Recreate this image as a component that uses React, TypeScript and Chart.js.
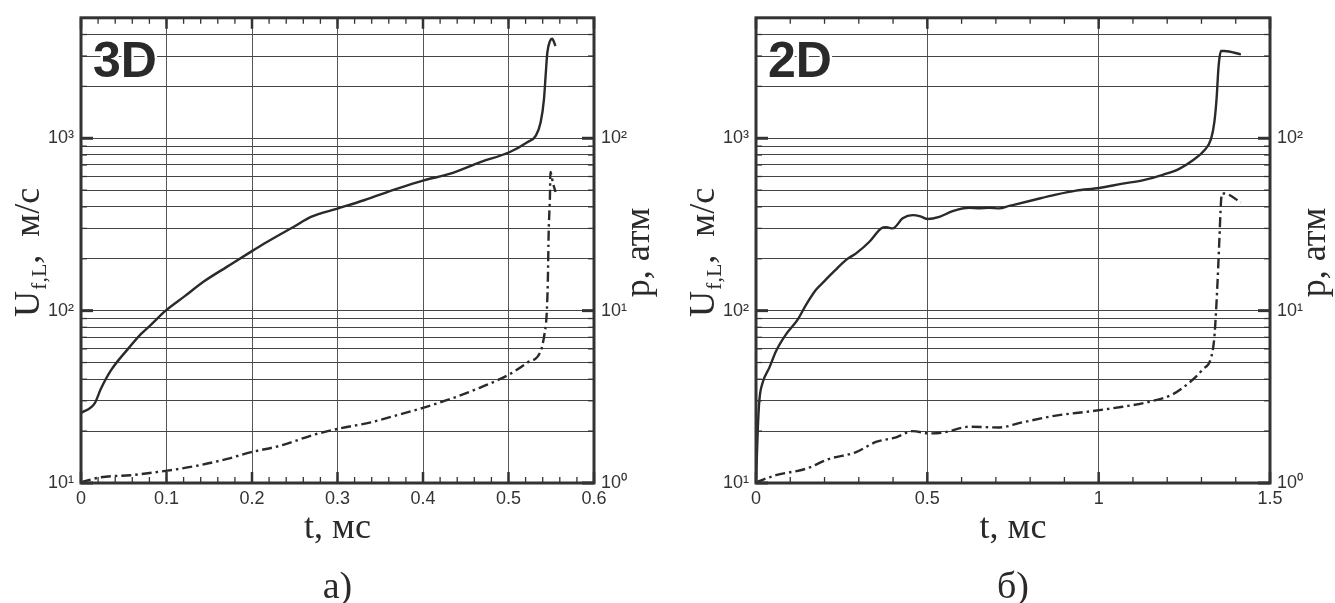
import React, { useEffect, useRef } from 'react';
import { Chart, registerables } from 'chart.js';

Chart.register(...registerables);

// ---------- data: panel а) 3D ----------
const t3dU = [0, 0.016, 0.023, 0.035, 0.055, 0.07, 0.082, 0.099, 0.121, 0.144, 0.171, 0.199, 0.218, 0.249, 0.269, 0.3, 0.331, 0.37, 0.401, 0.432, 0.467, 0.501, 0.522, 0.532, 0.5376, 0.5415, 0.5434, 0.5454, 0.5485, 0.551, 0.555];
const u3d = [25.5, 29, 35, 45, 60, 73, 83, 100, 121, 148, 180, 220, 251, 307, 350, 391, 437, 510, 570, 623, 728, 830, 949, 1036, 1237, 1688, 2300, 3135, 3658, 3776, 3428];
const t3dP = [0, 0.023, 0.058, 0.101, 0.136, 0.171, 0.199, 0.234, 0.273, 0.3, 0.339, 0.374, 0.401, 0.432, 0.467, 0.501, 0.522, 0.5376, 0.542, 0.5446, 0.546, 0.547, 0.5485, 0.549, 0.552, 0.555];
const p3d = [1.01, 1.08, 1.11, 1.18, 1.26, 1.38, 1.51, 1.65, 1.91, 2.06, 2.25, 2.51, 2.74, 3.07, 3.58, 4.27, 4.99, 5.82, 7.27, 9.48, 14.8, 28.7, 46.7, 63.7, 55, 48.8];

// ---------- data: panel б) 2D ----------
const t2dU = [0, 0.005, 0.0097, 0.019, 0.039, 0.058, 0.0875, 0.1216, 0.146, 0.175, 0.199, 0.229, 0.263, 0.292, 0.331, 0.365, 0.38, 0.399, 0.428, 0.457, 0.48, 0.501, 0.535, 0.574, 0.623, 0.65, 0.681, 0.71, 0.739, 0.807, 0.875, 0.934, 1.002, 1.07, 1.128, 1.187, 1.235, 1.274, 1.308, 1.328, 1.3375, 1.344, 1.35, 1.357, 1.367, 1.415];
const u2d = [10, 20, 30, 38, 46.7, 58, 72.8, 88.7, 108, 132, 148, 170, 197, 215, 251, 300, 305, 300, 343, 358, 352, 340, 350, 378, 395, 393, 395, 392, 405, 437, 471, 497, 515, 546, 570, 614, 665, 743, 849, 991, 1237, 1688, 2624, 3206, 3206, 3067];
const t2dP = [0, 0.058, 0.146, 0.214, 0.292, 0.35, 0.409, 0.457, 0.506, 0.545, 0.623, 0.71, 0.778, 0.875, 0.973, 1.07, 1.148, 1.216, 1.265, 1.304, 1.328, 1.3375, 1.342, 1.347, 1.352, 1.357, 1.36, 1.367, 1.415];
const p2d = [1.01, 1.11, 1.21, 1.38, 1.51, 1.73, 1.84, 2.0, 1.94, 1.96, 2.12, 2.1, 2.25, 2.46, 2.6, 2.77, 2.96, 3.27, 3.83, 4.57, 5.33, 6.95, 9.48, 14.8, 25.1, 42.8, 47.8, 47.8, 42.4];

// ---------- axes / ticks ----------
const xTicks3d = [0, 0.1, 0.2, 0.3, 0.4, 0.5, 0.6];
const xLabels3d = ['0', '0.1', '0.2', '0.3', '0.4', '0.5', '0.6'];
const xMinorStep3d = 0.02;
const xTicks2d = [0, 0.5, 1, 1.5];
const xLabels2d = ['0', '0.5', '1', '1.5'];
const xMinorStep2d = 0.1;

const uRange = [10, 5000];
const uDecades = [10, 100, 1000];
const uDecadeLabels = ['10\u00B9', '10\u00B2', '10\u00B3'];
const uGrid = [10, 20, 30, 40, 50, 60, 70, 80, 90, 100, 200, 300, 400, 500, 600, 700, 800, 900, 1000, 2000, 3000, 4000, 5000];
const pRange = [1, 500];
const pDecades = [1, 10, 100];
const pDecadeLabels = ['10\u2070', '10\u00B9', '10\u00B2'];
const pMinor = [2, 3, 4, 5, 6, 7, 8, 9, 20, 30, 40, 50, 60, 70, 80, 90, 200, 300, 400];

const xTitle = 't, мс';
const pTitle = 'p, атм';

type PanelDef = {
  tag: string;
  caption: string;
  tU: number[]; u: number[];
  tP: number[]; p: number[];
  xMax: number;
  xTicks: number[]; xLabels: string[]; xMinorStep: number;
  leftW: number; rightW: number;
};

const INK = '#2a2a2a';
const SANS = '"Liberation Sans", Arial, Helvetica, sans-serif';
const SERIF = '"Liberation Serif", "Times New Roman", serif';

function minorTicks(step: number, max: number): number[] {
  const out: number[] = [];
  const n = Math.round(max / step);
  for (let i = 1; i < n; i++) out.push(Math.round(i * step * 1000) / 1000);
  return out;
}

function makeDecor(def: PanelDef) {
  return {
    id: 'decor' + def.tag,
    afterDraw(chart: any) {
      const ctx: CanvasRenderingContext2D = chart.ctx;
      const a = chart.chartArea;
      const xs = chart.scales.x;
      const yl = chart.scales.y;
      const yr = chart.scales.y1;
      ctx.save();
      ctx.strokeStyle = '#333';
      ctx.lineCap = 'butt';
      const seg = (x1: number, y1: number, x2: number, y2: number, w: number) => {
        ctx.lineWidth = w;
        ctx.beginPath();
        ctx.moveTo(x1, y1);
        ctx.lineTo(x2, y2);
        ctx.stroke();
      };
      minorTicks(def.xMinorStep, def.xMax).forEach((v) => {
        const x = xs.getPixelForValue(v);
        seg(x, a.bottom, x, a.bottom - 6, 1.3);
        seg(x, a.top, x, a.top + 6, 1.3);
      });
      def.xTicks.forEach((v) => {
        const x = xs.getPixelForValue(v);
        seg(x, a.bottom, x, a.bottom - 11, 2.5);
        seg(x, a.top, x, a.top + 11, 2.5);
      });
      uGrid.forEach((v) => {
        const y = yl.getPixelForValue(v);
        seg(a.left, y, a.left + 6, y, 1.3);
      });
      uDecades.forEach((v) => {
        const y = yl.getPixelForValue(v);
        seg(a.left, y, a.left + 12, y, 3);
      });
      pMinor.forEach((v) => {
        const y = yr.getPixelForValue(v);
        seg(a.right, y, a.right - 6, y, 1.3);
      });
      pDecades.forEach((v) => {
        const y = yr.getPixelForValue(v);
        seg(a.right, y, a.right - 12, y, 3);
      });
      // frame
      ctx.lineWidth = 3;
      ctx.strokeStyle = '#333';
      ctx.strokeRect(a.left, a.top, a.right - a.left, a.bottom - a.top);

      // panel tag
      ctx.font = 'bold 50px ' + SANS;
      ctx.textAlign = 'left';
      ctx.textBaseline = 'alphabetic';
      ctx.lineJoin = 'round';
      ctx.strokeStyle = '#fff';
      ctx.lineWidth = 5;
      ctx.strokeText(def.tag, a.left + 12, a.top + 59);
      ctx.fillStyle = INK;
      ctx.fillText(def.tag, a.left + 12, a.top + 59);

      const cy = (a.top + a.bottom) / 2 + 2;
      // left title U_{f,L}, м/с
      const parts = [
        { text: 'U', size: 36, dy: 0, gap: 1 },
        { text: 'f,L', size: 22, dy: 7, gap: 0 },
        { text: ',  м/с', size: 36, dy: 0, gap: 0 },
      ];
      ctx.save();
      ctx.translate(a.left - 42, cy);
      ctx.rotate(-Math.PI / 2);
      ctx.fillStyle = INK;
      let total = 0;
      const widths = parts.map((pt) => {
        ctx.font = pt.size + 'px ' + SERIF;
        const w = ctx.measureText(pt.text).width + pt.gap;
        total += w;
        return w;
      });
      let x = -total / 2;
      parts.forEach((pt, i) => {
        ctx.font = pt.size + 'px ' + SERIF;
        ctx.fillText(pt.text, x, pt.dy);
        x += widths[i];
      });
      ctx.restore();

      // right title p, атм
      ctx.save();
      ctx.translate(a.right + 55, cy);
      ctx.rotate(-Math.PI / 2);
      ctx.font = '36px ' + SERIF;
      ctx.fillStyle = INK;
      ctx.textAlign = 'center';
      ctx.fillText(pTitle, 0, 0);
      ctx.restore();

      // caption
      ctx.font = '38px ' + SERIF;
      ctx.fillStyle = INK;
      ctx.textAlign = 'center';
      ctx.textBaseline = 'middle';
      ctx.fillText(def.caption, (a.left + a.right) / 2, 588);
      ctx.restore();
    },
  };
}

function buildConfig(def: PanelDef): any {
  const tickFont = { family: SANS, size: 18 };
  return {
    type: 'line',
    data: {
      datasets: [
        {
          label: 'U',
          data: def.tU.map((t, i) => ({ x: t, y: def.u[i] })),
          yAxisID: 'y',
          borderColor: INK,
          borderWidth: 2.4,
          pointRadius: 0,
          fill: false,
          cubicInterpolationMode: 'monotone',
        },
        {
          label: 'p',
          data: def.tP.map((t, i) => ({ x: t, y: def.p[i] })),
          yAxisID: 'y1',
          borderColor: INK,
          borderWidth: 2.4,
          borderDash: [10, 4, 2.5, 4],
          pointRadius: 0,
          fill: false,
          cubicInterpolationMode: 'monotone',
        },
      ],
    },
    options: {
      animation: false,
      responsive: false,
      maintainAspectRatio: false,
      events: [],
      layout: { padding: { top: 15, left: 0, right: 0, bottom: 0 } },
      plugins: { legend: { display: false }, tooltip: { enabled: false }, title: { display: false } },
      scales: {
        x: {
          type: 'linear',
          min: 0,
          max: def.xMax,
          afterBuildTicks: (s: any) => { s.ticks = def.xTicks.map((v) => ({ value: v })); },
          afterFit: (s: any) => { s.height = 120; },
          ticks: {
            autoSkip: false,
            maxRotation: 0,
            padding: 5,
            font: tickFont,
            color: '#333',
            callback: (_v: any, i: number) => def.xLabels[i],
          },
          grid: { drawTicks: false, color: '#555', lineWidth: 1 },
          border: { display: false },
          title: {
            display: true,
            text: xTitle,
            font: { family: SERIF, size: 36 },
            color: INK,
            padding: { top: 0, bottom: 53 },
          },
        },
        y: {
          type: 'logarithmic',
          position: 'left',
          min: uRange[0],
          max: uRange[1],
          afterBuildTicks: (s: any) => { s.ticks = uGrid.map((v) => ({ value: v })); },
          afterFit: (s: any) => { s.width = def.leftW; },
          ticks: {
            autoSkip: false,
            padding: 7,
            font: tickFont,
            color: '#333',
            callback: (v: any) => {
              const k = uDecades.indexOf(Number(v));
              return k >= 0 ? uDecadeLabels[k] : '';
            },
          },
          grid: { drawTicks: false, color: '#444', lineWidth: 1 },
          border: { display: false },
        },
        y1: {
          type: 'logarithmic',
          position: 'right',
          min: pRange[0],
          max: pRange[1],
          afterBuildTicks: (s: any) => { s.ticks = pDecades.map((v) => ({ value: v })); },
          afterFit: (s: any) => { s.width = def.rightW; },
          ticks: {
            autoSkip: false,
            padding: 7,
            font: tickFont,
            color: '#333',
            callback: (v: any) => {
              const k = pDecades.indexOf(Number(v));
              return k >= 0 ? pDecadeLabels[k] : '';
            },
          },
          grid: { display: false, drawTicks: false },
          border: { display: false },
        },
      },
    },
    plugins: [makeDecor(def)],
  };
}

const panelA: PanelDef = {
  tag: '3D', caption: 'а)',
  tU: t3dU, u: u3d, tP: t3dP, p: p3d,
  xMax: 0.6, xTicks: xTicks3d, xLabels: xLabels3d, xMinorStep: xMinorStep3d,
  leftW: 81, rightW: 74,
};
const panelB: PanelDef = {
  tag: '2D', caption: 'б)',
  tU: t2dU, u: u2d, tP: t2dP, p: p2d,
  xMax: 1.5, xTicks: xTicks2d, xLabels: xLabels2d, xMinorStep: xMinorStep2d,
  leftW: 88, rightW: 65,
};

export default function App() {
  const refA = useRef<HTMLCanvasElement | null>(null);
  const refB = useRef<HTMLCanvasElement | null>(null);
  useEffect(() => {
    const charts: Chart[] = [];
    if (refA.current) charts.push(new Chart(refA.current, buildConfig(panelA)));
    if (refB.current) charts.push(new Chart(refB.current, buildConfig(panelB)));
    return () => { charts.forEach((c) => c.destroy()); };
  }, []);
  return (
    <div style={{ position: 'absolute', left: 0, top: 0, width: 1335, height: 603, background: '#fff', overflow: 'hidden' }}>
      <canvas ref={refA} width={668} height={603} style={{ position: 'absolute', left: 0, top: 0, width: 668, height: 603 }} />
      <canvas ref={refB} width={667} height={603} style={{ position: 'absolute', left: 668, top: 0, width: 667, height: 603 }} />
    </div>
  );
}
